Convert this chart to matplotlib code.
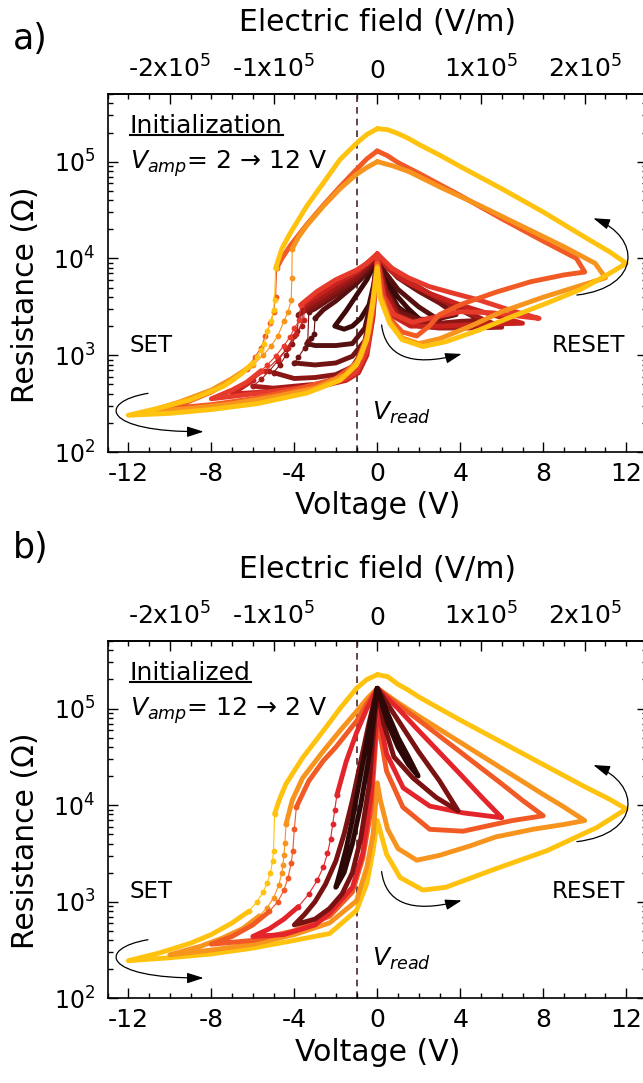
import numpy as np
import matplotlib
matplotlib.use("Agg")
import matplotlib.pyplot as plt
from matplotlib.ticker import MultipleLocator, LogLocator, NullFormatter
from matplotlib.path import Path
from matplotlib.patches import FancyArrowPatch, ArrowStyle
from matplotlib.lines import Line2D

plt.rcParams["font.family"] = "DejaVu Sans"
plt.rcParams["mathtext.fontset"] = "dejavusans"
plt.rcParams["mathtext.default"] = "regular"
plt.rcParams["axes.unicode_minus"] = False

nan = np.nan

# ---------------- a) initialization, V_amp = 2 -> 12 V ----------------
# each loop: 0 -> -Vamp (high branch, break at the SET jump) -> 0 -> +Vamp -> 0
# sv/sr = the SET jump itself (single measured points)
v_a2 = [0, -0.5, -1.0, -1.5, -2.05, -1.6, -1.2, -0.8, -0.4, -0.15, 0,
        0.4, 1.0, 1.5, 2.0, 1.5, 1.0, 0.5, 0]
r_a2 = [10000, 6030, 4170, 2880, 2000, 1860, 2000, 2400, 3310, 5620, 10000,
        5250, 3160, 2630, 2400, 3020, 3980, 5750, 10000]
sv_a2 = []
sr_a2 = []

v_a3 = [0, -0.5, -1.0, -2.0, -2.6, -3.0, nan,
        -3.4, -3.0, -2.0, -1.2, -0.6, -0.25, 0,
        0.4, 1.0, 1.8, 2.6, 3.0, 2.0, 1.0, 0.4, 0]
r_a3 = [10000, 7080, 5500, 3630, 2950, 2400, nan,
        1320, 1260, 1260, 1320, 1910, 3980, 10000,
        5010, 3020, 2400, 2290, 2290, 3160, 4790, 7080, 10000]
sv_a3 = [-3.0, -3.05, -3.2, -3.4]
sr_a3 = [2400, 1660, 1510, 1320]

v_a4 = [0, -0.5, -1.0, -2.0, -3.0, -3.3, nan,
        -4.0, -3.0, -2.0, -1.2, -0.6, -0.25, 0,
        0.4, 1.0, 2.0, 3.0, 3.8, 3.0, 2.0, 1.0, 0]
r_a4 = [10500, 7590, 6030, 4170, 3020, 2820, nan,
        832, 794, 832, 977, 1410, 3160, 10000,
        4790, 2820, 2340, 2400, 2630, 3470, 4570, 6310, 10500]
sv_a4 = [-3.3, -3.35, -3.5, -3.8, -4.0]
sr_a4 = [2820, 1410, 1200, 955, 832]

v_a5 = [0, -1.0, -2.0, -3.0, -3.8, nan,
        -5.0, -4.0, -3.0, -2.0, -1.2, -0.6, -0.25, 0,
        0.4, 1.0, 2.0, 3.0, 4.0, 5.0, 4.0, 3.0, 2.0, 1.0, 0]
r_a5 = [10500, 6310, 4570, 3310, 2630, nan,
        661, 575, 589, 631, 759, 1200, 2820, 10000,
        4680, 2630, 2140, 2140, 2240, 2290, 2950, 3800, 5010, 6760, 10500]
sv_a5 = [-3.8, -3.85, -4.1, -4.4, -4.7, -5.0]
sr_a5 = [2630, 1780, 1320, 1000, 794, 661]

v_a6 = [0, -1.0, -2.0, -3.0, -3.6, nan,
        -6.0, -5.0, -4.0, -3.0, -2.0, -1.2, -0.6, -0.25, 0,
        0.4, 1.0, 2.0, 3.0, 4.5, 6.0, 5.0, 4.0, 3.0, 2.0, 1.0, 0]
r_a6 = [10700, 6920, 5010, 3630, 3020, nan,
        479, 457, 479, 501, 550, 661, 1050, 2630, 10000,
        4470, 2510, 2000, 1910, 1910, 1950, 2400, 3020, 3800, 5010, 6920, 10700]
sv_a6 = [-3.6, -3.65, -4.0, -4.4, -4.8, -5.2, -5.6, -6.0]
sr_a6 = [3020, 2000, 1580, 1150, 871, 692, 562, 479]

v_a7 = [0, -1.0, -2.0, -3.0, -3.5, nan,
        -6.0, -6.5, -7.0, -5.5, -4.0, -2.5, -1.5, -0.9, -0.5, -0.2, 0,
        0.3, 0.8, 1.6, 3.0, 5.0, 7.0, 5.5, 4.0, 2.5, 1.2, 0.5, 0]
r_a7 = [11000, 7240, 5500, 3980, 3470, nan,
        550, 468, 398, 417, 447, 490, 550, 661, 1000, 2510, 10000,
        3980, 2510, 2000, 2000, 2090, 2140, 2630, 3310, 4370, 6030, 7940, 11000]
sv_a7 = [-3.5, -3.55, -3.9, -4.3, -4.8, -5.4, -6.0]
sr_a7 = [3470, 2290, 1660, 1200, 912, 692, 550]

v_a8 = [0, -0.5, -1.0, -2.0, -2.9, -3.7, nan,
        -5.6, -6.3, -7.0, -8.0, -6.0, -4.2, -2.5, -1.5, -1.0, -0.5, -0.2, 0,
        0.3, 0.8, 1.7, 2.5, 4.0, 5.5, 7.0, 7.8, 6.5, 4.9, 3.5, 2.5, 1.5, 0.7, 0]
r_a8 = [11200, 8910, 7590, 6030, 4570, 3310, nan,
        692, 525, 437, 355, 398, 447, 501, 575, 676, 1120, 2820, 10000,
        4170, 2630, 2190, 2400, 2820, 2750, 2510, 2400, 2880, 3720, 4470, 5130, 6310, 7940, 11200]
sv_a8 = [-3.7, -3.75, -4.0, -4.2, -4.5, -4.9, -5.3, -5.6]
sr_a8 = [3310, 2290, 1910, 1550, 1260, 977, 794, 692]

v_a10 = [0, -0.5, -1.0, -1.8, -2.6, -3.4, -4.2, -4.6, -4.85, nan,
         -6.3, -7.0, -8.0, -9.0, -10.0, -8.0, -6.0, -4.0, -2.0, -1.0, -0.5, -0.2, 0,
         0.15, 0.6, 1.2, 1.9, 2.5, 3.0, 4.1, 5.7, 7.4, 9.0, 10.0, 9.6, 8.0, 6.0, 4.0, 2.0, 1.0, 0.5, 0]
r_a10 = [129000, 107000, 83200, 55000, 35500, 22400, 13500, 10000, 7940, nan,
         724, 550, 417, 339, 282, 309, 355, 437, 575, 832, 1580, 3980, 8910,
         4470, 2400, 1740, 1580, 2000, 2630, 3390, 4470, 5750, 6760, 7240, 10000, 15100, 25700, 44700, 75900, 97700, 115000, 129000]
sv_a10 = [-4.85, -4.9, -5.0, -5.15, -5.4, -5.6, -5.9, -6.3]
sr_a10 = [7940, 3980, 2820, 2140, 1580, 1200, 955, 724]

v_a11 = [0, -0.5, -1.0, -1.8, -2.6, -3.4, -3.8, -4.1, nan,
         -6.0, -7.0, -8.0, -9.5, -11.0, -9.0, -7.0, -5.0, -3.0, -1.5, -0.8, -0.4, -0.15, 0,
         0.15, 0.6, 1.2, 2.0, 3.0, 4.5, 6.0, 8.0, 9.5, 11.0, 10.5, 9.0, 7.0, 5.0, 3.0, 1.5, 0.7, 0]
r_a11 = [100000, 87100, 74100, 52500, 34700, 21900, 16600, 12600, nan,
         794, 575, 437, 331, 263, 282, 316, 372, 457, 631, 955, 1780, 3980, 8320,
         4170, 2240, 1510, 1320, 1480, 2000, 2820, 3980, 5010, 6310, 8910, 13200, 21400, 34700, 55000, 79400, 91200, 100000]
sv_a11 = [-4.1, -4.12, -4.15, -4.3, -4.5, -4.8, -5.1, -5.5, -6.0]
sr_a11 = [12600, 6310, 3720, 2820, 2240, 1580, 1260, 1000, 794]

v_a12 = [0, -0.5, -1.0, -1.8, -2.6, -3.4, -4.2, -4.6, -4.9, nan,
         -6.0, -6.6, -7.4, -9.0, -10.6, -12.0, -10.0, -8.0, -5.8, -3.4, -1.8, -1.0, -0.5, -0.2, 0,
         0.12, 0.6, 1.2, 2.2, 3.3, 4.9, 6.5, 8.2, 9.8, 11.0, 12.0, 11.2, 10.0, 8.0, 6.0, 4.0, 3.0, 2.0, 1.5, 1.0, 0.5, 0]
r_a12 = [219000, 191000, 155000, 105000, 60300, 34700, 18200, 12600, 7940, nan,
         832, 631, 479, 347, 282, 240, 251, 275, 316, 407, 550, 794, 1450, 3720, 7940,
         3980, 2140, 1450, 1230, 1380, 1820, 2510, 3470, 4790, 6610, 8910, 11700, 16600, 30200, 52500, 89100, 117000, 151000, 174000, 195000, 214000, 219000]
sv_a12 = [-4.9, -4.95, -5.0, -5.1, -5.3, -5.45, -5.6, -5.8, -6.0]
sr_a12 = [7940, 3720, 2950, 2240, 1780, 1320, 1120, 955, 832]

# ---------------- b) initialized, V_amp = 12 -> 2 V ----------------
v_b12 = [0, -0.5, -1.0, -1.8, -2.6, -3.6, -4.4, -4.7, -4.95, nan,
         -6.2, -7.0, -8.0, -9.0, -10.5, -12.0, -10.0, -8.0, -6.0, -4.0, -2.3, -1.0, -0.5, -0.2, 0,
         0.45, 1.1, 2.2, 3.3, 5.7, 8.2, 10.6, 12.0, 11.2, 10.0, 8.0, 6.0, 4.0, 3.0, 2.0, 1.5, 1.0, 0.5, 0]
r_b12 = [224000, 200000, 162000, 100000, 58900, 30900, 16600, 11700, 8130, nan,
         794, 603, 457, 372, 295, 245, 263, 288, 331, 398, 468, 813, 1550, 3390, 6920,
         3090, 1780, 1320, 1410, 2190, 3390, 5890, 9120, 11500, 15500, 26300, 44700, 75900, 100000, 132000, 155000, 178000, 214000, 224000]
sv_b12 = [-4.95, -5.0, -5.05, -5.15, -5.3, -5.5, -5.8, -6.2]
sr_b12 = [8130, 3390, 2630, 2000, 1580, 1260, 1000, 794]

v_b10 = [0, -0.5, -1.0, -1.8, -2.6, -3.6, -4.1, -4.4, nan,
         -5.7, -6.5, -7.5, -8.5, -10.0, -8.0, -6.0, -4.0, -2.3, -1.0, -0.5, -0.2, 0,
         0.15, 0.5, 1.0, 1.9, 3.0, 4.5, 5.7, 7.5, 9.0, 10.0, 9.0, 8.0, 6.0, 4.0, 2.0, 1.0, 0]
r_b10 = [162000, 126000, 93300, 58900, 36300, 19100, 11200, 6310, nan,
         708, 525, 417, 347, 282, 316, 363, 457, 603, 1020, 2290, 5010, 17000,
         11200, 5620, 3550, 2690, 3020, 3800, 4680, 5620, 6310, 6920, 9550, 12900, 24000, 44700, 83200, 115000, 162000]
sv_b10 = [-4.4, -4.45, -4.5, -4.55, -4.6, -4.75, -5.0, -5.3, -5.7]
sr_b10 = [6310, 4070, 3020, 2400, 2000, 1480, 1100, 871, 708]

v_b8 = [0, -0.5, -1.0, -2.0, -2.6, -3.3, -3.9, nan,
        -5.2, -6.0, -7.0, -8.0, -6.0, -4.0, -2.3, -1.2, -0.7, -0.3, 0,
        0.45, 1.23, 2.53, 4.13, 6.5, 8.0, 7.0, 6.0, 4.0, 2.0, 1.0, 0]
r_b8 = [162000, 112000, 74100, 39800, 28800, 17800, 9550, nan,
        794, 575, 437, 363, 398, 501, 708, 1260, 2820, 8910, 79400,
        22400, 9550, 5620, 5370, 6920, 7760, 11200, 16600, 35500, 75900, 110000, 162000]
sv_b8 = [-3.9, -4.0, -4.07, -4.15, -4.3, -4.5, -4.8, -5.2]
sr_b8 = [9550, 5620, 3390, 2510, 1780, 1320, 1000, 794]

v_b6 = [0, -0.5, -1.0, -1.5, -1.95, nan,
        -3.8, -4.5, -5.2, -6.0, -4.5, -3.0, -2.3, -1.2, -0.7, -0.3, 0,
        0.45, 1.25, 2.53, 4.13, 6.0, 5.0, 4.0, 2.0, 1.0, 0]
r_b6 = [162000, 100000, 56200, 28200, 12600, nan,
        891, 661, 525, 437, 457, 575, 759, 1410, 3160, 12600, 100000,
        33900, 15100, 9770, 8320, 7410, 12300, 20900, 58900, 100000, 162000]
sv_b6 = [-1.95, -2.05, -2.15, -2.25, -2.4, -2.6, -2.9, -3.3, -3.8]
sr_b6 = [12600, 8910, 6310, 4470, 3160, 2290, 1660, 1200, 891]

v_b4 = [0, -0.4, -0.8, -1.2, -1.6, -2.0, -2.5, -3.0, -3.5, -4.0, -3.0, -2.3, -1.7, -1.2, -0.8, -0.4, 0,
        0.3, 0.8, 1.72, 2.84, 3.9, 3.0, 2.0, 1.0, 0]
r_b4 = [162000, 70800, 28200, 11200, 5010, 2630, 1510, 1000, 741, 575, 661, 851, 1200, 2000, 4470, 15800, 162000,
        70800, 31600, 19100, 12000, 8710, 17800, 35500, 75900, 162000]
sv_b4 = []
sr_b4 = []

v_b2 = [0, -0.3, -0.6, -0.9, -1.2, -1.5, -1.8, -2.0, -1.6, -1.2, -0.8, -0.4, 0,
        0.5, 1.0, 1.5, 1.97, 1.5, 1.0, 0.5, 0]
r_b2 = [162000, 79400, 35500, 15800, 7080, 3550, 2000, 1410, 2000, 3980, 10000, 31600, 162000,
        70800, 39800, 26300, 20000, 31600, 50100, 89100, 162000]
sv_b2 = []
sr_b2 = []

# drawing order follows the measurement sequence
loops_a = [
    (v_a2, r_a2, sv_a2, sr_a2, "#3d0a0a"),
    (v_a3, r_a3, sv_a3, sr_a3, "#571010"),
    (v_a4, r_a4, sv_a4, sr_a4, "#701313"),
    (v_a5, r_a5, sv_a5, sr_a5, "#8a1616"),
    (v_a6, r_a6, sv_a6, sr_a6, "#a61a1a"),
    (v_a7, r_a7, sv_a7, sr_a7, "#c8221f"),
    (v_a8, r_a8, sv_a8, sr_a8, "#e63a2b"),
    (v_a10, r_a10, sv_a10, sr_a10, "#f15a24"),
    (v_a11, r_a11, sv_a11, sr_a11, "#f7941d"),
    (v_a12, r_a12, sv_a12, sr_a12, "#ffc20e"),
]
loops_b = [
    (v_b12, r_b12, sv_b12, sr_b12, "#ffc20e"),
    (v_b10, r_b10, sv_b10, sr_b10, "#f7941d"),
    (v_b8, r_b8, sv_b8, sr_b8, "#f15a24"),
    (v_b6, r_b6, sv_b6, sr_b6, "#e3242b"),
    (v_b4, r_b4, sv_b4, sr_b4, "#7a1212"),
    (v_b2, r_b2, sv_b2, sr_b2, "#2e0707"),
]

field_ticks = [-2e5, -1e5, 0, 1e5, 2e5]
field_labels = ["-2x10$^{5}$", "-1x10$^{5}$", "$0$", "1x10$^{5}$", "2x10$^{5}$"]


def v_to_e(v):
    # 50 um electrode gap
    return v * 2e4


def e_to_v(e):
    return e / 2e4


def setup(ax):
    ax.set_yscale("log")
    ax.set_xlim(-13, 13)
    ax.set_ylim(1e2, 5e5)
    ax.xaxis.set_major_locator(MultipleLocator(4))
    ax.xaxis.set_minor_locator(MultipleLocator(1))
    ax.yaxis.set_major_locator(LogLocator(base=10, numticks=20))
    ax.yaxis.set_minor_locator(LogLocator(base=10, subs=np.arange(2, 10), numticks=20))
    ax.yaxis.set_minor_formatter(NullFormatter())
    ax.tick_params(which="both", direction="in", top=False, right=True, width=1.0)
    ax.tick_params(which="major", length=7.5)
    ax.tick_params(which="minor", length=3.7)
    ax.tick_params(axis="x", labelsize=18, pad=7)
    ax.tick_params(axis="y", labelsize=17, pad=9)
    for s in ax.spines.values():
        s.set_linewidth(1.2)
    ax.set_xlabel("Voltage (V)", fontsize=21.5, labelpad=4)
    ax.set_ylabel("Resistance (\u03a9)", fontsize=21.5)
    ax.yaxis.set_label_coords(-0.125, 0.44)
    ax.axvline(-1, color="#4a2626", lw=1.2, ls=(0, (4, 3)), zorder=1)

    top = ax.secondary_xaxis("top", functions=(v_to_e, e_to_v))
    top.set_xticks(field_ticks)
    top.set_xticklabels(field_labels)
    top.xaxis.set_minor_locator(MultipleLocator(2e4))
    top.tick_params(which="both", direction="in", width=1.0)
    top.tick_params(which="major", length=7.5, labelsize=18, pad=8)
    top.tick_params(which="minor", length=3.7)
    top.spines["top"].set_linewidth(1.2)
    top.set_xlabel("Electric field (V/m)", fontsize=21.5, labelpad=18)


def draw_loops(ax, loops):
    for v, r, sv, sr, c in loops:
        ax.plot(v, r, color=c, lw=3.5, solid_capstyle="round",
                solid_joinstyle="round", zorder=2)
        if sv:
            ax.plot(sv, sr, color=c, lw=0.8, marker="o", ms=4.2, mew=0, zorder=2)


def draw_arrows(ax):
    arcs = [
        [(0.075, 0.164), (-0.02, 0.14), (-0.01, 0.055), (0.178, 0.057)],
        [(0.508, 0.355), (0.515, 0.27), (0.56, 0.235), (0.6565, 0.274)],
        [(0.870, 0.4385), (0.99, 0.46), (0.99, 0.60), (0.9005, 0.653)],
    ]
    codes = [Path.MOVETO, Path.CURVE4, Path.CURVE4, Path.CURVE4]
    for pts in arcs:
        arr = FancyArrowPatch(path=Path(pts, codes),
                              arrowstyle=ArrowStyle("-|>", head_length=1.0, head_width=0.32),
                              mutation_scale=10, lw=0.9, color="black",
                              transform=ax.transAxes, clip_on=False, zorder=3)
        ax.add_patch(arr)


fig = plt.figure(figsize=(6.43, 10.83), dpi=100)
ax_a = fig.add_axes([0.1673, 0.5826, 0.8389, 0.3306])
ax_b = fig.add_axes([0.1673, 0.0782, 0.8389, 0.3299])

texts = []
for ax, loops, title, amp in [(ax_a, loops_a, "Initialization", "2 \u2192 12 V"),
                              (ax_b, loops_b, "Initialized", "12 \u2192 2 V")]:
    setup(ax)
    draw_loops(ax, loops)
    draw_arrows(ax)
    t = ax.text(0.0415, 0.89, title, transform=ax.transAxes, fontsize=18,
                ha="left", va="baseline")
    texts.append(t)
    ax.text(0.0415, 0.792, r"$\mathit{V}_{\mathit{amp}}$= " + amp, transform=ax.transAxes,
            fontsize=18, ha="left", va="baseline")
    ax.text(0.04, 0.28, "SET", transform=ax.transAxes, fontsize=16.5,
            ha="left", va="baseline")
    ax.text(0.959, 0.28, "RESET", transform=ax.transAxes, fontsize=16.5,
            ha="right", va="baseline")
    ax.text(0.49, 0.09, r"$\mathit{V}_{\mathit{read}}$", transform=ax.transAxes,
            fontsize=18, ha="left", va="baseline")

fig.text(0.047, 0.964, "a)", fontsize=25, ha="center", va="center")
fig.text(0.047, 0.494, "b)", fontsize=25, ha="center", va="center")

# underline the panel titles
fig.canvas.draw()
inv = fig.transFigure.inverted()
for t in texts:
    bb = t.get_window_extent()
    (x0, y0), (x1, _) = inv.transform([(bb.x0, bb.y0 + 3), (bb.x1, bb.y0 + 3)])
    fig.add_artist(Line2D([x0, x1], [y0, y0], color="black", lw=1.5,
                          transform=fig.transFigure))

fig.savefig("out.png", dpi=100)
